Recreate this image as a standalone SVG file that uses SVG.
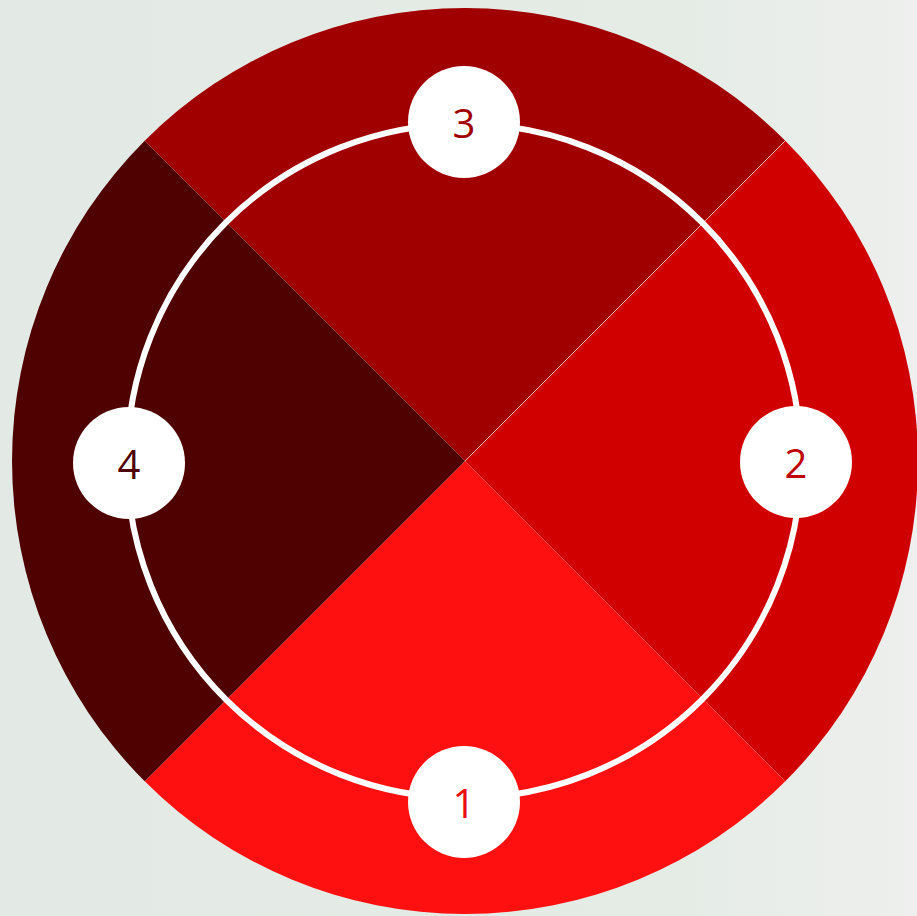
<svg xmlns="http://www.w3.org/2000/svg" width="917" height="916" viewBox="0 0 917 916">
<defs>
<linearGradient id="bg" x1="0" y1="0" x2="1" y2="0">
<stop offset="0" stop-color="#E3EAE5"/>
<stop offset="0.75" stop-color="#E5ECE6"/>
<stop offset="1" stop-color="#EEEFEE"/>
</linearGradient>
<style>
.badge{fill:#FFFFFF}
.lbl{font-family:"Open Sans","Liberation Sans",sans-serif;font-size:40px;text-anchor:middle;dominant-baseline:central}
</style>
</defs>
<rect width="917" height="916" fill="url(#bg)"/>
<g id="quadrants">
<path id="q3" d="M465 461 L144.7 140.7 A453 453 0 0 1 785.3 140.7 Z" fill="#A10000"/>
<path id="q2" d="M465 461 L785.3 140.7 A453 453 0 0 1 785.3 781.3 Z" fill="#D10000"/>
<path id="q1" d="M465 461 L785.3 781.3 A453 453 0 0 1 144.7 781.3 Z" fill="#FF1010"/>
<path id="q4" d="M465 461 L144.7 781.3 A453 453 0 0 1 144.7 140.7 Z" fill="#4F0000"/>
<line x1="465" y1="461" x2="786" y2="140" stroke="#F0D0D0" stroke-width="1" stroke-opacity="0.8"/>
</g>
<g id="connectors">
<circle cx="464" cy="461" r="337" fill="none" stroke="#FFFFFF" stroke-width="6"/>
</g>
<g id="node3"><circle class="badge" cx="464" cy="122" r="56"/><text class="lbl" x="464" y="122" fill="#A10000">3</text></g>
<g id="node2"><circle class="badge" cx="796" cy="462" r="56"/><text class="lbl" x="796" y="462" fill="#C00000">2</text></g>
<g id="node1"><circle class="badge" cx="464" cy="802" r="56"/><text class="lbl" x="464" y="802" fill="#E81010">1</text></g>
<g id="node4"><circle class="badge" cx="129" cy="463" r="56"/><text class="lbl" x="129" y="463" fill="#4F0000">4</text></g>
</svg>
